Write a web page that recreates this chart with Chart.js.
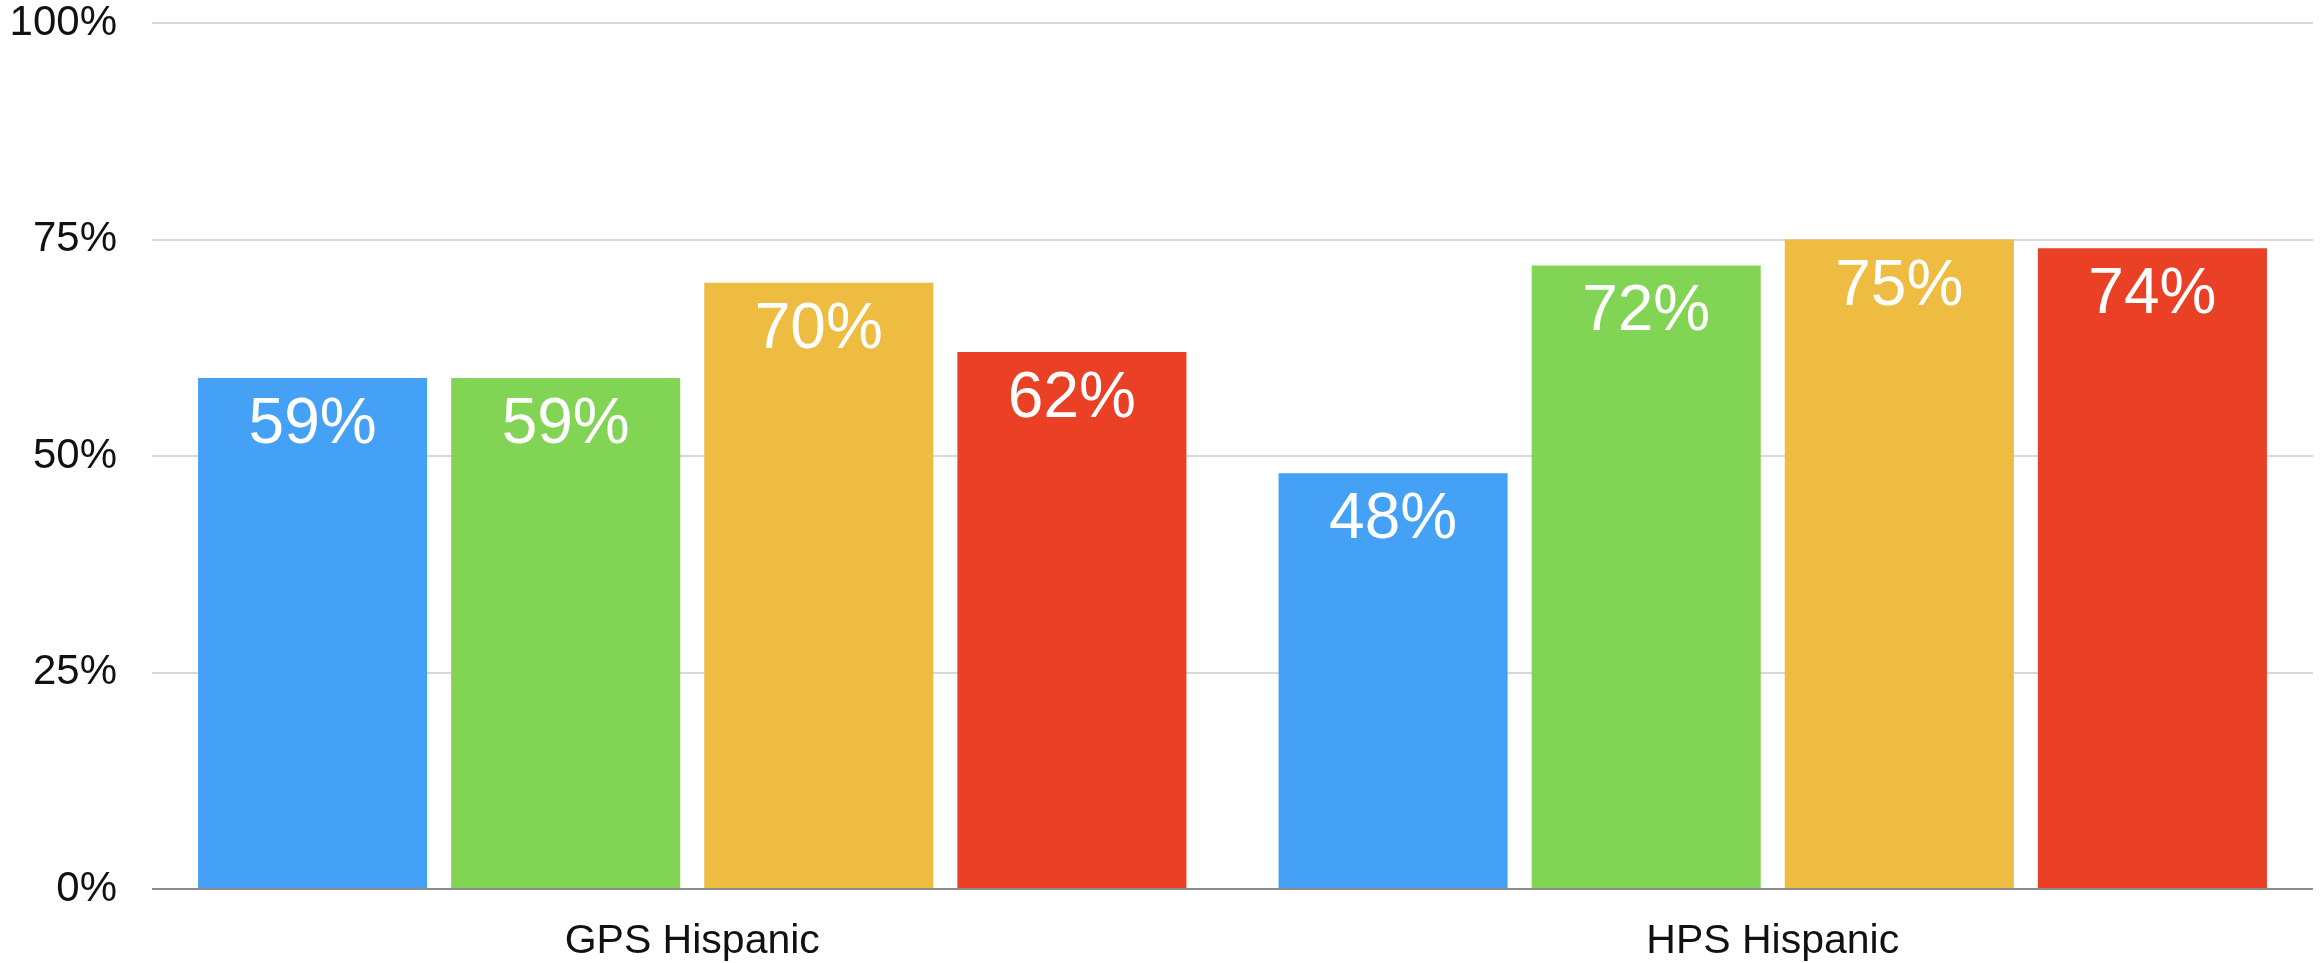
<!DOCTYPE html>
<html>
<head>
<meta charset="utf-8">
<script src="https://cdn.jsdelivr.net/npm/chart.js@4"></script>
<style>
  html, body { margin: 0; padding: 0; background: #fff; }
  #wrap { width: 2321px; height: 963px; }
</style>
</head>
<body>
<div id="wrap"><canvas id="chart"></canvas></div>
<script>
// data
const categories = ['GPS Hispanic', 'HPS Hispanic'];
const seriesA = [59, 48];
const seriesB = [59, 72];
const seriesC = [70, 75];
const seriesD = [62, 74];
const yTicks = [0, 25, 50, 75, 100];

const colors = ['#44a1f5', '#82d454', '#edbc40', '#e94026'];

// white value labels near the top of every bar
const valueLabels = {
  id: 'valueLabels',
  afterDatasetsDraw(chart) {
    const c = chart.ctx;
    c.save();
    c.fillStyle = '#ffffff';
    c.font = '64px "Liberation Sans", Arial, sans-serif';
    c.textAlign = 'center';
    c.textBaseline = 'alphabetic';
    chart.data.datasets.forEach((ds, i) => {
      chart.getDatasetMeta(i).data.forEach((bar, j) => {
        c.fillText(ds.data[j] + '%', bar.x, bar.y + 65);
      });
    });
    c.restore();
  }
};

const ctx = document.getElementById('chart').getContext('2d');
new Chart(ctx, {
  type: 'bar',
  data: {
    labels: categories,
    datasets: [seriesA, seriesB, seriesC, seriesD].map((d, i) => ({
      label: 'Serie ' + (i + 1),
      data: d,
      backgroundColor: colors[i],
      borderWidth: 0,
      categoryPercentage: 0.937,
      barPercentage: 0.905
    }))
  },
  options: {
    responsive: true,
    maintainAspectRatio: false,
    animation: false,
    layout: { padding: { top: 23, right: 8, left: 0, bottom: 0 } },
    plugins: {
      legend: { display: false },
      tooltip: { enabled: false }
    },
    scales: {
      x: {
        grid: { display: false },
        border: { display: false },
        ticks: {
          color: '#111',
          padding: 20,
          font: { family: '"Liberation Sans", Arial, sans-serif', size: 41 }
        },
        afterFit: s => { s.height = 74; s.paddingLeft = 0; s.paddingRight = 0; }
      },
      y: {
        min: 0,
        max: 100,
        afterBuildTicks: s => { s.ticks = yTicks.map(v => ({ value: v })); },
        grid: {
          drawTicks: false,
          lineWidth: 2,
          color: c => c.tick && c.tick.value === 0 ? '#8c8c8c' : '#d8d8d8'
        },
        border: { display: false },
        ticks: {
          color: '#111',
          padding: 35,
          font: { family: '"Liberation Sans", Arial, sans-serif', size: 42 },
          callback: v => v + '%'
        },
        afterFit: s => { s.width = 152; s.paddingTop = 0; s.paddingBottom = 0; }
      }
    }
  },
  plugins: [valueLabels]
});
</script>
</body>
</html>
